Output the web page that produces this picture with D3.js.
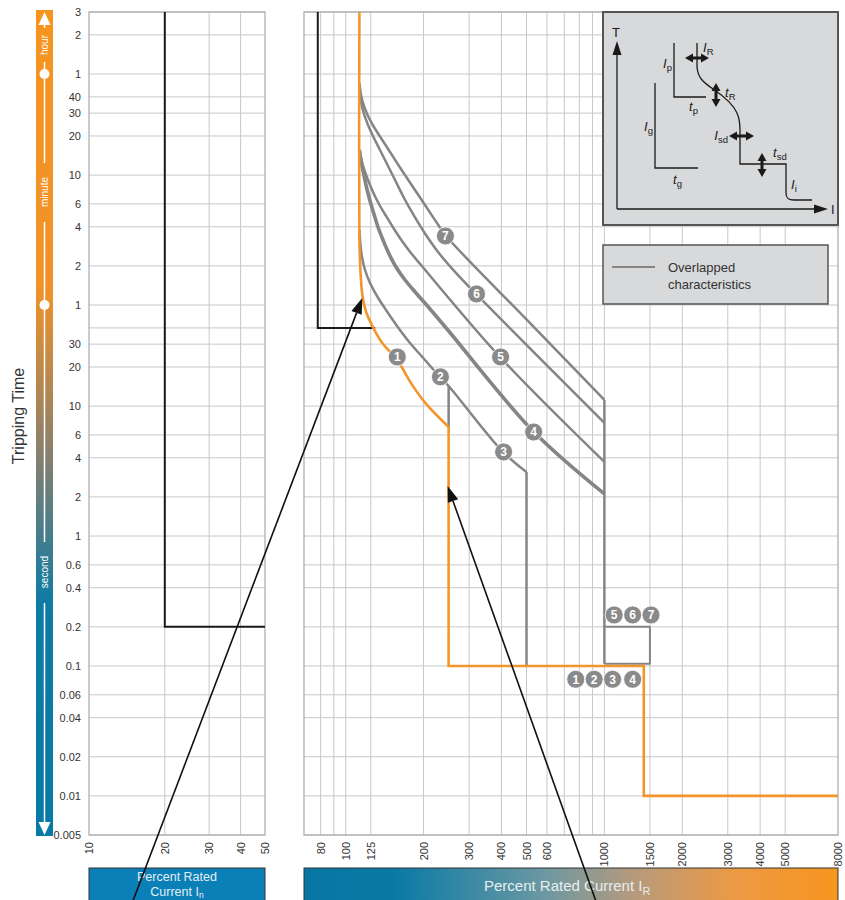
<!DOCTYPE html>
<html><head><meta charset="utf-8">
<script src="https://cdn.jsdelivr.net/npm/d3@7"></script>
<style>
body{margin:0;background:#fff;}
text{font-family:"Liberation Sans",Arial,Helvetica,sans-serif;}
</style>
</head><body>
<svg id="c" width="845" height="900"></svg>
<script>
// ---------- data ----------
const timeTicks  = [10800,7200,3600,2400,1800,1200,600,360,240,120,60,40,30,20,10,6,4,2,1,0.6,0.4,0.2,0.1,0.06,0.04,0.02,0.01,0.005];
const timeLabels = ["3","2","1","40","30","20","10","6","4","2","1","","30","20","10","6","4","2","1","0.6","0.4","0.2","0.1","0.06","0.04","0.02","0.01","0.005"];
const inGrid   = [20,30,40];
const inLabels = [10,20,30,40,50];
const irGrid   = [80,90,100,125,200,300,400,500,600,700,800,900,1000,1500,2000,3000,4000,5000];
const irLabels = [80,100,125,200,300,400,500,600,1000,1500,2000,3000,4000,5000,8000];

// left panel curve (% In vs s)
const leftBlack  = [[20,10800],[20,0.2],[50,0.2]];
// right panel black curve
const rightBlack = [[78,10800],[78,40],[130,40]];

// characteristic 1 (orange)
const curve1Long  = [[113,10800],[113,190],[114,111.6],[116,71.7],[120,53],[128,39.9],[138.5,30.6],[158,22.7],[181,14.5],[203,10.6],[250,6.9]];
const curve1Steps = [[250,6.9],[250,0.1],[1420,0.1],[1420,0.01],[8000,0.01]];

// overlapped characteristics (grey)
const curve23 = [[113.1,226.8],[114.1,173.9],[115.6,140.6],[118.8,111.6],[124.2,88.6],[132.1,70.4],[143.2,54.95],[157.9,41.4],[177.3,30.6],[202.6,22.65],[231.5,16.76],[250,14.29],[405.6,4.44],[500,3.11]];
const curve2Drop = [[250,14.29],[250,6.9]];
const curve3Drop = [[500,3.11],[500,0.1]];
const curve4 = [[113.1,936.4],[114.6,770.7],[117.2,622.9],[120.3,485.9],[124.2,379.2],[128.6,301.2],[133.3,239.2],[139.4,190.0],[147.1,148.3],[156.5,117.7],[169.6,93.5],[187.0,74.27],[211.8,55.93],[246.4,39.24],[529.8,6.43],[1000,2.11]];
const curve5 = [[113.1,936.4],[115.1,784.5],[117.7,668.7],[122.0,550.3],[127.5,444.7],[134.5,359.6],[143.2,290.7],[153.8,230.9],[165.1,186.7],[178.8,150.9],[195.5,122.0],[394.9,23.88],[1000,3.72]];
const curve6 = [[113.1,2810],[114.6,2193],[117.7,1772],[122.0,1458],[127.5,1200],[134.5,970.3],[143.2,757.1],[153.8,570.1],[166.5,414.4],[182.0,301.2],[200.8,218.9],[227.5,153.6],[264.6,107.8],[318.9,72.97],[1000,7.42]];
const curve7 = [[113.1,3070],[114.6,2481],[117.7,2043],[122.0,1711],[128.6,1407],[136.9,1158],[148.4,903.8],[163.6,668.7],[182.0,485.9],[202.6,353.3],[225.4,256.8],[246.4,200.4],[493.4,47.7],[1000,11.15]];
const curve4to7Drop = [[1000,11.15],[1000,0.104]];
const box567 = [[1000,0.2],[1500,0.2],[1500,0.104],[1000,0.104]];

// number badges
const badgeText = ["1","2","3","4","5","6","7","1","2","3","4","5","6","7"];
const badgeI    = [158.3,232.4,407.8,532.9,397,320.4,243, 775,913,1076,1286, 1091,1286,1514];
const badgeT    = [23.9,16.8,4.44,6.32,23.9,73,203.9, 0.079,0.079,0.079,0.079, 0.247,0.247,0.247];

// ---------- scales ----------
const svg = d3.select("#c");
const y  = d3.scaleLog().domain([0.005,10800]).range([835,12]);
const xL = d3.scaleLog().domain([10,50]).range([89,265]);
const xR = d3.scaleLog().domain([69,8000]).range([304,838]);

const gridCol = "#c5c8cc", frameCol = "#a8aaad";
const orange = "#f2962c", grey = "#858585";

// ---------- defs ----------
const defs = svg.append("defs");
const vg = defs.append("linearGradient").attr("id","vgrad").attr("x1",0).attr("y1",0).attr("x2",0).attr("y2",1);
[[0,"#f7941e"],[0.34,"#ef922a"],[0.53,"#8d806b"],[0.72,"#0d7ba4"],[1,"#0879a6"]].forEach(s=>vg.append("stop").attr("offset",s[0]).attr("stop-color",s[1]));
const hg = defs.append("linearGradient").attr("id","hgrad").attr("x1",0).attr("y1",0).attr("x2",1).attr("y2",0);
[[0,"#0677a5"],[0.17,"#0a7aa5"],[0.45,"#6b98a2"],[0.62,"#b69a7c"],[0.8,"#eb9a45"],[1,"#f7961f"]].forEach(s=>hg.append("stop").attr("offset",s[0]).attr("stop-color",s[1]));

// ---------- grids ----------
function panel(xs, gridVals){
  const g = svg.append("g");
  g.selectAll("line.h").data(timeTicks).join("line")
    .attr("x1",xs.range()[0]).attr("x2",xs.range()[1])
    .attr("y1",d=>y(d)).attr("y2",d=>y(d))
    .attr("stroke",gridCol).attr("stroke-width",1);
  g.selectAll("line.v").data(gridVals).join("line")
    .attr("x1",d=>xs(d)).attr("x2",d=>xs(d))
    .attr("y1",y.range()[0]).attr("y2",y.range()[1])
    .attr("stroke",gridCol).attr("stroke-width",1);
  g.append("rect").attr("x",xs.range()[0]).attr("y",y.range()[1])
    .attr("width",xs.range()[1]-xs.range()[0]).attr("height",y.range()[0]-y.range()[1])
    .attr("fill","none").attr("stroke",frameCol).attr("stroke-width",1.2);
}
panel(xL, inGrid);
panel(xR, irGrid);

// y tick labels
const yAxis = d3.axisLeft(y).tickValues(timeTicks).tickFormat((d,i)=>timeLabels[i]).tickSize(0).tickPadding(8);
const ya = svg.append("g").attr("transform","translate(89,0)").call(yAxis);
ya.select(".domain").remove();
ya.selectAll("text").attr("font-size",11).attr("fill","#333").style("font-family","'Liberation Sans',Arial,sans-serif");

// x tick labels (rotated)
function xLabels(xs, vals){
  svg.append("g").selectAll("text").data(vals).join("text")
    .attr("transform",d=>`translate(${xs(d)+4},842) rotate(-90)`)
    .attr("text-anchor","end").attr("font-size",11).attr("fill","#333")
    .text(d=>d);
}
xLabels(xL, inLabels);
xLabels(xR, irLabels);

// ---------- curves ----------
const lineL = d3.line().x(d=>xL(d[0])).y(d=>y(d[1]));
const lineR = d3.line().x(d=>xR(d[0])).y(d=>y(d[1]));
const smoothR = d3.line().x(d=>xR(d[0])).y(d=>y(d[1])).curve(d3.curveCatmullRom.alpha(0.5));

svg.append("path").attr("d",lineL(leftBlack)).attr("fill","none").attr("stroke","#1a1a1a").attr("stroke-width",2);
svg.append("path").attr("d",lineR(rightBlack)).attr("fill","none").attr("stroke","#1a1a1a").attr("stroke-width",2);

const greyG = svg.append("g").attr("fill","none").attr("stroke",grey).attr("stroke-linejoin","round");
[curve7,curve6,curve5,curve23].forEach(c=>greyG.append("path").attr("d",smoothR(c)).attr("stroke-width",2.5));
greyG.append("path").attr("d",smoothR(curve4)).attr("stroke-width",3.6);
[curve2Drop,curve3Drop,curve4to7Drop].forEach(c=>greyG.append("path").attr("d",lineR(c)).attr("stroke-width",2.5));
greyG.append("path").attr("d",lineR(box567)).attr("stroke-width",2);

svg.append("path").attr("d",smoothR(curve1Long)).attr("fill","none").attr("stroke",orange).attr("stroke-width",2.6);
svg.append("path").attr("d",lineR(curve1Steps)).attr("fill","none").attr("stroke",orange).attr("stroke-width",2.6);

// badges
const bg = svg.append("g").selectAll("g").data(badgeText).join("g")
  .attr("transform",(d,i)=>`translate(${xR(badgeI[i])},${y(badgeT[i])})`);
bg.append("circle").attr("r",9).attr("fill","#8a8a8a").attr("stroke","#fff").attr("stroke-width",0.8);
bg.append("text").text(d=>d).attr("text-anchor","middle").attr("dy","0.36em")
  .attr("font-size",12).attr("font-weight","bold").attr("fill","#fff");

// ---------- left time bar ----------
const bar = svg.append("g");
bar.append("rect").attr("x",36).attr("y",y(10800)-2).attr("width",17).attr("height",y(0.005)-y(10800)+3).attr("fill","url(#vgrad)");
const bx = 44.5;
[[25,28],[62,163],[222,542],[603,824]].forEach(s=>bar.append("line").attr("x1",bx).attr("x2",bx).attr("y1",s[0]).attr("y2",s[1]).attr("stroke","#fff").attr("stroke-width",1.5));
bar.append("path").attr("d",`M${bx},${y(10800)} L${bx-6},${y(10800)+13} L${bx+6},${y(10800)+13}Z`).attr("fill","#fff");
bar.append("path").attr("d",`M${bx},${y(0.005)} L${bx-6},${y(0.005)-13} L${bx+6},${y(0.005)-13}Z`).attr("fill","#fff");
[3600,60].forEach(v=>bar.append("circle").attr("cx",bx).attr("cy",y(v)).attr("r",5).attr("fill","#fff"));
[["hour",45],["minute",192],["second",572]].forEach(l=>bar.append("text").text(l[0])
  .attr("transform",`translate(${bx+3.5},${l[1]}) rotate(-90)`).attr("text-anchor","middle")
  .attr("font-size",10).attr("fill","#fff"));

svg.append("text").text("Tripping Time").attr("transform","translate(24,416) rotate(-90)")
  .attr("text-anchor","middle").attr("font-size",16).attr("fill","#333");

// ---------- bottom bars ----------
svg.append("rect").attr("x",89).attr("y",868).attr("width",176).attr("height",40).attr("fill","#0b80b8").attr("stroke","#333").attr("stroke-width",1);
svg.append("text").text("Percent Rated").attr("x",177).attr("y",881).attr("text-anchor","middle").attr("font-size",12.5).attr("fill","#e4eef4");
const t2 = svg.append("text").attr("x",177).attr("y",896).attr("text-anchor","middle").attr("font-size",12.5).attr("fill","#e4eef4");
t2.append("tspan").text("Current  I");
t2.append("tspan").text("n").attr("font-size",8.5).attr("dy",1.5);

svg.append("rect").attr("x",304).attr("y",868).attr("width",534).attr("height",40).attr("fill","url(#hgrad)").attr("stroke","#333").attr("stroke-width",1);
const t3 = svg.append("text").attr("x",484).attr("y",891).attr("font-size",15).attr("fill","#e8eef0");
t3.append("tspan").text("Percent Rated Current   I");
t3.append("tspan").text("R").attr("font-size",11).attr("dy",4);

// ---------- annotation arrows ----------
function arrow(tipX, tipY, dx, dy){
  const len = Math.hypot(dx,dy), ux = dx/len, uy = dy/len;
  const hl = 16, hw = 5.5;
  const bxp = tipX + ux*hl, byp = tipY + uy*hl;
  svg.append("line").attr("x1",tipX+dx).attr("y1",tipY+dy).attr("x2",bxp).attr("y2",byp).attr("stroke","#111").attr("stroke-width",1.6);
  svg.append("path").attr("d",`M${tipX},${tipY} L${bxp-uy*hw},${byp+ux*hw} L${bxp+uy*hw},${byp-ux*hw}Z`).attr("fill","#111");
}
arrow(xR(115.9), y(68), -232, 610);
arrow(xR(250)-1, y(2.43), 150, 420);

// ---------- inset schematic ----------
const ins = svg.append("g").attr("transform","translate(603,12)");
ins.append("rect").attr("width",235).attr("height",213).attr("fill","#d8d9db").attr("stroke","#555").attr("stroke-width",2);
const ink = "#1a1a1a";
ins.append("line").attr("x1",14).attr("y1",40).attr("x2",14).attr("y2",197).attr("stroke",ink).attr("stroke-width",1.3);
ins.append("line").attr("x1",14).attr("y1",197).attr("x2",214).attr("y2",197).attr("stroke",ink).attr("stroke-width",1.3);
ins.append("path").attr("d","M14,29 L9.5,43 L18.5,43Z").attr("fill",ink);
ins.append("path").attr("d","M225,197 L211,192.5 L211,201.5Z").attr("fill",ink);
ins.append("text").text("T").attr("x",13).attr("y",25).attr("text-anchor","middle").attr("font-size",13).attr("fill",ink);
ins.append("text").text("I").attr("x",228).attr("y",202).attr("font-size",13).attr("fill",ink);
const p = (d)=>ins.append("path").attr("d",d).attr("fill","none").attr("stroke",ink).attr("stroke-width",1.3);
p("M71,31 V85 H103");
p("M52,71 V156 H95");
p("M94,31 V55 C95,66 100,70 110,77 C122,85 130,92 134,101 C137,108 137,112 137,118 V152 H183 V181 C183,186 185,188 191,188 H209");
function dblH(x1,x2,yy){
  ins.append("line").attr("x1",x1+6).attr("x2",x2-6).attr("y1",yy).attr("y2",yy).attr("stroke",ink).attr("stroke-width",3);
  ins.append("path").attr("d",`M${x1},${yy} L${x1+8},${yy-4.5} L${x1+8},${yy+4.5}Z M${x2},${yy} L${x2-8},${yy-4.5} L${x2-8},${yy+4.5}Z`).attr("fill",ink);
}
function dblV(xx,y1,y2){
  ins.append("line").attr("x1",xx).attr("x2",xx).attr("y1",y1+6).attr("y2",y2-6).attr("stroke",ink).attr("stroke-width",3);
  ins.append("path").attr("d",`M${xx},${y1} L${xx-4.5},${y1+8} L${xx+4.5},${y1+8}Z M${xx},${y2} L${xx-4.5},${y2-8} L${xx+4.5},${y2-8}Z`).attr("fill",ink);
}
dblH(82,106,46); dblV(113,71,95); dblH(126,151,124); dblV(159,141,165);
function lab(x,yy,main,sub,anchor){
  const t = ins.append("text").attr("x",x).attr("y",yy).attr("text-anchor",anchor||"start").attr("font-size",13).attr("fill",ink);
  t.append("tspan").text(main).attr("font-style","italic");
  t.append("tspan").text(sub).attr("font-size",9.5).attr("dy",3);
}
lab(100,40,"I","R"); lab(69,56,"I","p","end"); lab(86,99,"t","p");
lab(122,85,"t","R"); lab(50,119,"I","g","end"); lab(70,172,"t","g");
lab(125,128,"I","sd","end"); lab(170,145,"t","sd"); lab(188,177,"I","i");

// ---------- legend ----------
const lg = svg.append("g");
lg.append("rect").attr("x",603).attr("y",245).attr("width",225).attr("height",59).attr("fill","#d8d9db").attr("stroke","#555").attr("stroke-width",1.5);
lg.append("line").attr("x1",612).attr("x2",655).attr("y1",267).attr("y2",267).attr("stroke",grey).attr("stroke-width",2);
lg.append("text").text("Overlapped").attr("x",668).attr("y",272).attr("font-size",13).attr("fill","#333");
lg.append("text").text("characteristics").attr("x",668).attr("y",289).attr("font-size",13).attr("fill","#333");
</script>
</body></html>
